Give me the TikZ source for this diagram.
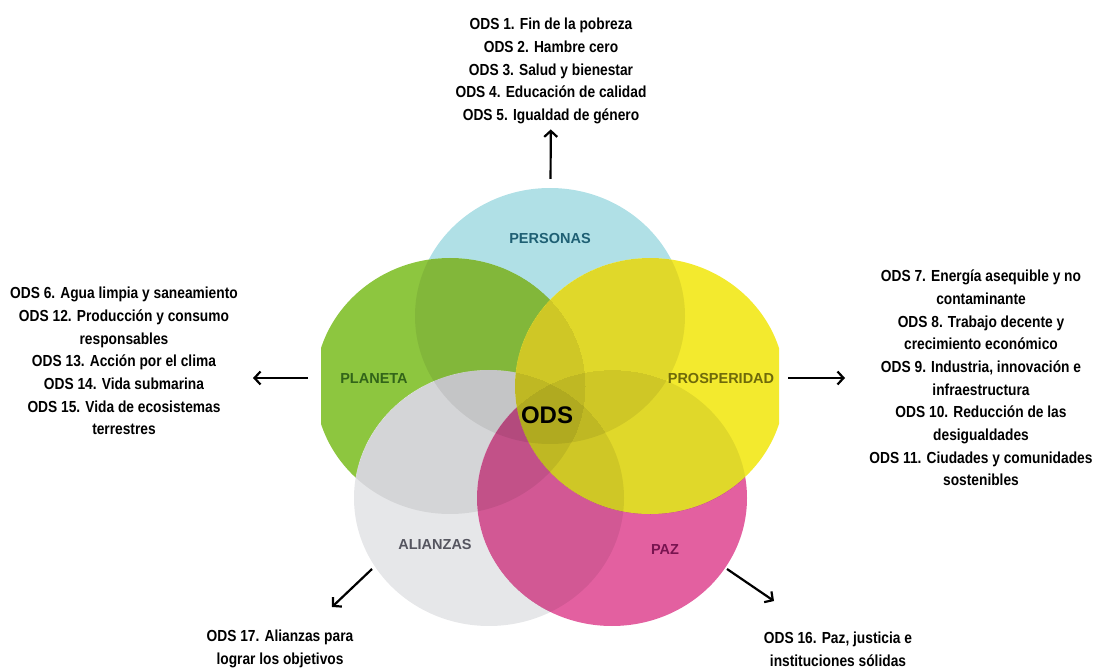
\documentclass[tikz,border=0pt]{standalone}
\usepackage{fontspec}
\setmainfont{Liberation Sans}
\newfontfamily\estrecha[FakeStretch=0.86]{Liberation Sans}
\usetikzlibrary{arrows.meta,shapes.geometric}
\definecolor{cPer}{RGB}{176,224,230}
\definecolor{cPla}{RGB}{141,198,63}
\definecolor{cAli}{RGB}{230,231,233}
\definecolor{cPaz}{RGB}{227,96,160}
\definecolor{cPro}{RGB}{243,234,46}
\tikzset{
  circulo/.style={ellipse, draw=none, minimum width=270pt, minimum height=256pt},
  lista/.style={align=center, font=\estrecha\bfseries\fontsize{16}{22.7}\selectfont},
  etiqueta/.style={font=\bfseries\fontsize{14.5}{16}\selectfont},
  flecha/.style={-{Straight Barb[length=6pt,width=13pt]}, line width=2.2pt}
}
% sombra de un circulo sobre los de abajo
\newcommand{\sombra}[2]{%
  \begin{scope}
    \clip (#1.center) ellipse [x radius=135, y radius=128];
    \begin{scope}[transparency group, opacity=0.075]
      \foreach \c in {#2} \fill[black] (\c.center) ellipse [x radius=135, y radius=128];
    \end{scope}
  \end{scope}}
\begin{document}
\begin{tikzpicture}
      [x=1pt, y=-1pt]
      \useasboundingbox (0,0) rectangle (1096,668);
      % circulos
      \begin{scope}
        \clip (321,0) rectangle (779,668);
        \node[circulo, fill=cPer](personas) at (550, 316) {};
        \node[circulo, fill=cPla](planeta) at (450, 386) {};
        \node[circulo, fill=cAli](alianzas) at (489, 498) {};
        \node[circulo, fill=cPaz](paz) at (612, 498) {};
        \node[circulo, fill=cPro](prosperidad) at (650, 386) {};
        \sombra{planeta}{personas}
        \sombra{alianzas}{personas,planeta}
        \sombra{paz}{personas,planeta,alianzas}
        \sombra{prosperidad}{personas,planeta,alianzas,paz}
      \end{scope}
      \node[etiqueta, text={rgb,255:red,30;green,95;blue,115}](lPer) at (550, 239) {PERSONAS};
      \node[etiqueta, text={rgb,255:red,50;green,100;blue,25}](lPla) at (374, 379) {PLANETA};
      \node[etiqueta, text={rgb,255:red,110;green,105;blue,10}](lPro) at (721, 379) {PROSPERIDAD};
      \node[etiqueta, text={rgb,255:red,85;green,85;blue,95}](lAli) at (435, 545) {ALIANZAS};
      \node[etiqueta, text={rgb,255:red,120;green,20;blue,80}](lPaz) at (665, 550) {PAZ};
      \node[font=\bfseries\fontsize{24}{26}\selectfont](ods) at (547, 415) {ODS};
      % listas
      \node[lista](sup) at (551, 71) {ODS 1. Fin de la pobreza\\ODS 2. Hambre cero\\ODS 3. Salud y bienestar\\ODS 4. Educación de calidad\\ODS 5. Igualdad de género};
      \node[lista](izq) at (124, 361) {ODS 6. Agua limpia y saneamiento\\ODS 12. Producción y consumo\\responsables\\ODS 13. Acción por el clima\\ODS 14. Vida submarina\\ODS 15. Vida de ecosistemas\\terrestres};
      \node[lista](der) at (981, 378) {ODS 7. Energía asequible y no\\contaminante\\ODS 8. Trabajo decente y\\crecimiento económico\\ODS 9. Industria, innovación e\\infraestructura\\ODS 10. Reducción de las\\desigualdades\\ODS 11. Ciudades y comunidades\\sostenibles};
      \node[lista](infI) at (280, 649) {ODS 17. Alianzas para\\lograr los objetivos};
      \node[lista](infD) at (838, 649) {ODS 16. Paz, justicia e\\instituciones sólidas};
      % flechas
      \coordinate(fIa) at (308, 378);
      \coordinate(fIb) at (253, 378);
      \coordinate(fDa) at (788, 378);
      \coordinate(fDb) at (845, 378);
      \coordinate(fAa) at (372, 569);
      \coordinate(fAb) at (332, 607);
      \coordinate(fZa) at (727, 569);
      \coordinate(fZb) at (774, 601);
      \draw[flecha, shorten <=9pt, shorten >=2pt](personas) -- (sup);
      \draw[flecha](fIa) -- (fIb);
      \draw[flecha](fDa) -- (fDb);
      \draw[flecha](fAa) -- (fAb);
      \draw[flecha](fZa) -- (fZb);
  \end{tikzpicture}
\end{document}
